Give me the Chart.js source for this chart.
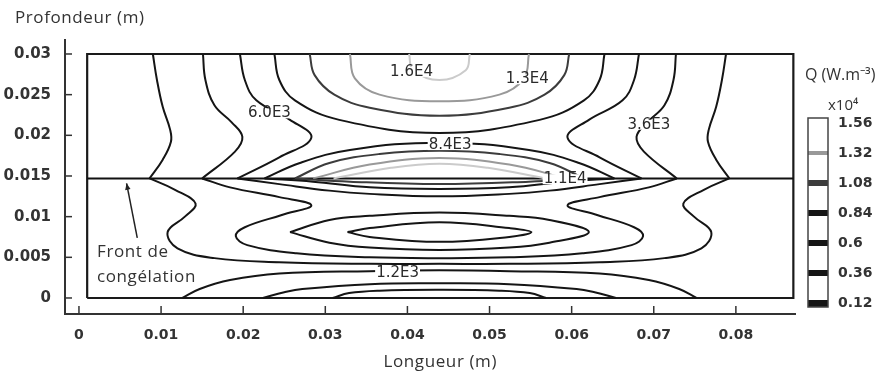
<!DOCTYPE html>
<html>
<head>
<meta charset="utf-8">
<script src="https://cdn.jsdelivr.net/npm/chart.js@4.4.0/dist/chart.umd.min.js"></script>
<style>
  html, body { margin: 0; padding: 0; background: #fff; }
</style>
</head>
<body>
<canvas id="c" width="891" height="374"></canvas>
<script>
// axes
const xTicks = [0, 0.01, 0.02, 0.03, 0.04, 0.05, 0.06, 0.07, 0.08];
const xTickLabels = ["0", "0.01", "0.02", "0.03", "0.04", "0.05", "0.06", "0.07", "0.08"];
const yTicks = [0, 0.005, 0.01, 0.015, 0.02, 0.025, 0.03];
const yTickLabels = ["0", "0.005", "0.01", "0.015", "0.02", "0.025", "0.03"];
const qLevels = [0.12, 0.36, 0.6, 0.84, 1.08, 1.32, 1.56];
const qLabels = ["0.12", "0.36", "0.6", "0.84", "1.08", "1.32", "1.56"];

// domaine + front de congélation
const boxPts = [[0.001, 0], [0.087, 0], [0.087, 0.03], [0.001, 0.03], [0.001, 0]];
const frontPts = [[0.001, 0.0147], [0.087, 0.0147]];

// isolignes (x, y)
const q12TopLeft = [[0.0090,0.0300],[0.0095,0.0268],[0.0102,0.0235],[0.0111,0.0207],[0.0112,0.0192],[0.0102,0.0170],[0.0086,0.0147]];
const q12TopRight = [[0.0788,0.0300],[0.0783,0.0268],[0.0776,0.0235],[0.0767,0.0207],[0.0766,0.0192],[0.0776,0.0170],[0.0792,0.0147]];
const q12Below = [[0.0086,0.0147],[0.0117,0.0133],[0.0142,0.0116],[0.0129,0.0100],[0.0108,0.0081],[0.0120,0.0061],[0.0165,0.0049],[0.0244,0.0044],[0.0354,0.0042],[0.0439,0.0042],[0.0524,0.0042],[0.0634,0.0044],[0.0713,0.0049],[0.0758,0.0061],[0.0770,0.0081],[0.0749,0.0100],[0.0736,0.0116],[0.0761,0.0133],[0.0792,0.0147]];
const q36TopLeft = [[0.0151,0.0300],[0.0154,0.0268],[0.0165,0.0237],[0.0186,0.0216],[0.0199,0.0198],[0.0190,0.0180],[0.0150,0.0147]];
const q36TopRight = [[0.0727,0.0300],[0.0724,0.0268],[0.0713,0.0237],[0.0692,0.0216],[0.0679,0.0198],[0.0688,0.0180],[0.0728,0.0147]];
const q36Below = [[0.0150,0.0147],[0.0184,0.0136],[0.0244,0.0124],[0.0283,0.0114],[0.0247,0.0102],[0.0202,0.0087],[0.0191,0.0076],[0.0205,0.0065],[0.0265,0.0055],[0.0354,0.0050],[0.0439,0.0049],[0.0524,0.0050],[0.0613,0.0055],[0.0673,0.0065],[0.0687,0.0076],[0.0676,0.0087],[0.0631,0.0102],[0.0595,0.0114],[0.0634,0.0124],[0.0694,0.0136],[0.0728,0.0147]];
const q60TopLeft = [[0.0196,0.0300],[0.0202,0.0268],[0.0216,0.0243],[0.0257,0.0219],[0.0283,0.0197],[0.0244,0.0173],[0.0193,0.0147]];
const q60TopRight = [[0.0682,0.0300],[0.0676,0.0268],[0.0662,0.0243],[0.0621,0.0219],[0.0595,0.0197],[0.0634,0.0173],[0.0685,0.0147]];
const q60Below = [[0.0193,0.0147],[0.0244,0.0140],[0.0305,0.0132],[0.0354,0.0128],[0.0439,0.0125],[0.0524,0.0128],[0.0573,0.0132],[0.0634,0.0140],[0.0685,0.0147]];
const q60Lobe = [[0.0257,0.0081],[0.0305,0.0096],[0.0354,0.0101],[0.0439,0.0105],[0.0524,0.0101],[0.0573,0.0096],[0.0621,0.0081],[0.0573,0.0068],[0.0524,0.0062],[0.0439,0.0059],[0.0354,0.0062],[0.0305,0.0068],[0.0257,0.0081]];
const q84Top = [[0.0238,0.0300],[0.0244,0.0268],[0.0263,0.0243],[0.0317,0.0219],[0.0439,0.0203],[0.0561,0.0219],[0.0615,0.0243],[0.0634,0.0268],[0.0640,0.0300]];
const q84LensUp = [[0.0226,0.0147],[0.0269,0.0166],[0.0330,0.0182],[0.0439,0.0191],[0.0548,0.0182],[0.0609,0.0166],[0.0652,0.0147]];
const q84LensDown = [[0.0226,0.0147],[0.0285,0.0143],[0.0354,0.0136],[0.0439,0.0134],[0.0524,0.0136],[0.0593,0.0143],[0.0652,0.0147]];
const q84Lobe = [[0.0327,0.0081],[0.0354,0.0086],[0.0439,0.0093],[0.0524,0.0086],[0.0551,0.0081],[0.0524,0.0075],[0.0439,0.0069],[0.0354,0.0075],[0.0327,0.0081]];
const q108Top = [[0.0281,0.0300],[0.0287,0.0274],[0.0311,0.0250],[0.0354,0.0234],[0.0439,0.0224],[0.0524,0.0234],[0.0567,0.0250],[0.0591,0.0274],[0.0597,0.0300]];
const q108LensUp = [[0.0263,0.0147],[0.0305,0.0166],[0.0366,0.0177],[0.0439,0.0181],[0.0512,0.0177],[0.0573,0.0166],[0.0615,0.0147]];
const q108LensDown = [[0.0263,0.0147],[0.0330,0.0143],[0.0439,0.0140],[0.0548,0.0143],[0.0615,0.0147]];
const q132Top = [[0.0330,0.0300],[0.0336,0.0270],[0.0366,0.0250],[0.0439,0.0242],[0.0512,0.0250],[0.0542,0.0270],[0.0548,0.0300]];
const q132Lens = [[0.0285,0.0147],[0.0354,0.0164],[0.0439,0.0172],[0.0524,0.0164],[0.0593,0.0147]];
const q156Top = [[0.0402,0.0300],[0.0407,0.0280],[0.0439,0.0268],[0.0471,0.0280],[0.0476,0.0300]];
const q156Lens = [[0.0310,0.0147],[0.0380,0.0160],[0.0439,0.0165],[0.0498,0.0160],[0.0568,0.0147]];
const q12Bottom = [[0.0126,0],[0.0147,0.0011],[0.0184,0.0022],[0.0244,0.0030],[0.0354,0.0033],[0.0439,0.0034],[0.0524,0.0033],[0.0634,0.0030],[0.0694,0.0022],[0.0731,0.0011],[0.0752,0]];
const q36Bottom = [[0.0224,0],[0.0250,0.0007],[0.0272,0.0011],[0.0354,0.0017],[0.0439,0.0018],[0.0524,0.0017],[0.0606,0.0011],[0.0628,0.0007],[0.0654,0]];
const q60Bottom = [[0.0309,0],[0.0329,0.0006],[0.0366,0.0009],[0.0439,0.0010],[0.0512,0.0009],[0.0549,0.0006],[0.0569,0]];

// étiquettes des isolignes
const labelText = ["1.6E4", "1.3E4", "6.0E3", "8.4E3", "3.6E3", "1.1E4", "1.2E3"];
const labelX = [0.0405, 0.0546, 0.0232, 0.0452, 0.0694, 0.0592, 0.0388];
const labelY = [0.0278, 0.0269, 0.0227, 0.0188, 0.0213, 0.0146, 0.0031];

// couleur des niveaux (x1E4)
const levelColor = { 0.12: "#151515", 0.36: "#151515", 0.6: "#151515", 0.84: "#151515", 1.08: "#3c3c3c", 1.32: "#999999", 1.56: "#cbcbcb" };

const contours = [
    [q12TopLeft, 0.12], [q12TopRight, 0.12], [q12Below, 0.12], [q12Bottom, 0.12],
    [q36TopLeft, 0.36], [q36TopRight, 0.36], [q36Below, 0.36], [q36Bottom, 0.36],
    [q60TopLeft, 0.6], [q60TopRight, 0.6], [q60Below, 0.6], [q60Lobe, 0.6], [q60Bottom, 0.6],
    [q84Top, 0.84], [q84LensUp, 0.84], [q84LensDown, 0.84], [q84Lobe, 0.84],
    [q108Top, 1.08], [q108LensUp, 1.08], [q108LensDown, 1.08],
    [q132Top, 1.32], [q132Lens, 1.32],
    [q156Top, 1.56], [q156Lens, 1.56],
];

const toXY = (pts) => pts.map(([x, y]) => ({ x, y }));

const datasets = contours.map(([pts, lvl]) => ({
    data: toXY(pts),
    borderColor: levelColor[lvl],
    borderWidth: 2,
    tension: 0.4,
}));
datasets.push({ data: toXY(frontPts), borderColor: "#111", borderWidth: 2, tension: 0 });
datasets.push({ data: toXY(boxPts), borderColor: "#1a1a1a", borderWidth: 2.2, tension: 0 });

const tickFont = { family: "DejaVu Sans", size: 14, weight: "bold" };
const tickFontY = { family: "DejaVu Sans", size: 15, weight: "bold" };
const txtFont = '17px "Open Sans"';

// ticks vers l'intérieur, textes, colorbar
const decor = {
    id: "decor",
    afterDatasetsDraw(chart) {
        const { ctx, chartArea: a, scales } = chart;
        const sx = scales.x, sy = scales.y, sq = scales.q;
        ctx.save();

        ctx.strokeStyle = "#333";
        ctx.lineWidth = 1.5;
        xTicks.forEach(v => {
            const px = sx.getPixelForValue(v);
            ctx.beginPath(); ctx.moveTo(px, a.bottom); ctx.lineTo(px, a.bottom - 8); ctx.stroke();
        });
        yTicks.forEach(v => {
            const py = sy.getPixelForValue(v);
            ctx.beginPath(); ctx.moveTo(a.left, py); ctx.lineTo(a.left + 7, py); ctx.stroke();
        });

        // étiquettes
        ctx.font = '15px "DejaVu Sans"';
        ctx.textAlign = "center";
        ctx.textBaseline = "middle";
        labelText.forEach((t, i) => {
            const px = sx.getPixelForValue(labelX[i]);
            const py = sy.getPixelForValue(labelY[i]);
            const w = ctx.measureText(t).width;
            ctx.fillStyle = "#fff";
            ctx.fillRect(px - w / 2 - 1, py - 5, w + 2, 10);
            ctx.fillStyle = "#2a2a2a";
            ctx.fillText(t, px, py);
        });

        // Front de congélation + flèche
        ctx.font = txtFont;
        ctx.letterSpacing = "0.6px";
        ctx.textAlign = "left";
        ctx.fillStyle = "#333";
        ctx.fillText("Front de", sx.getPixelForValue(0.0022), sy.getPixelForValue(0.0056));
        ctx.fillText("congélation", sx.getPixelForValue(0.0022), sy.getPixelForValue(0.0025));
        const ax0 = sx.getPixelForValue(0.0071), ay0 = sy.getPixelForValue(0.0074);
        const ax1 = sx.getPixelForValue(0.0058), ay1 = sy.getPixelForValue(0.0141);
        ctx.strokeStyle = "#222";
        ctx.lineWidth = 1.5;
        ctx.beginPath(); ctx.moveTo(ax0, ay0); ctx.lineTo(ax1, ay1); ctx.stroke();
        const ang = Math.atan2(ay1 - ay0, ax1 - ax0);
        ctx.beginPath();
        ctx.moveTo(ax1, ay1);
        ctx.lineTo(ax1 - 7 * Math.cos(ang - 0.4), ay1 - 7 * Math.sin(ang - 0.4));
        ctx.lineTo(ax1 - 7 * Math.cos(ang + 0.4), ay1 - 7 * Math.sin(ang + 0.4));
        ctx.closePath();
        ctx.fillStyle = "#222";
        ctx.fill();

        // titres
        ctx.fillStyle = "#333";
        ctx.textBaseline = "middle";
        ctx.fillText("Profondeur (m)", 15, 18);
        ctx.textAlign = "center";
        ctx.fillText("Longueur (m)", sx.getPixelForValue(0.044), 362);

        // colorbar
        ctx.textAlign = "left";
        ctx.letterSpacing = "0px";
        ctx.font = '16px "Open Sans"';
        ctx.fillText("Q (W.m\u207B\u00B3)", 805, 75);
        ctx.font = '15px "Open Sans"';
        ctx.fillText("x10\u2074", 828, 106);
        const cx = 808, cw = 20;
        const top = sq.getPixelForValue(1.56) - 5;
        const bot = sq.getPixelForValue(0.12) + 4;
        qLevels.forEach(v => {
            const py = sq.getPixelForValue(v);
            const h = v === 0.12 ? 7 : (v >= 1.32 ? 4 : 6);
            ctx.fillStyle = v === 1.56 ? "#ffffff" : levelColor[v];
            ctx.fillRect(cx, v === 0.12 ? bot - h : py - h / 2, cw, h);
        });
        ctx.strokeStyle = "#444";
        ctx.lineWidth = 1.5;
        ctx.strokeRect(cx, top, cw, bot - top);
        ctx.restore();
    }
};

new Chart(document.getElementById("c"), {
    type: "scatter",
    data: { datasets: datasets.map(d => Object.assign({ showLine: true, pointRadius: 0, fill: false }, d)) },
    options: {
        responsive: false,
        animation: false,
        devicePixelRatio: 1,
        layout: { padding: { top: 40, left: 0, right: 0, bottom: 0 } },
        plugins: { legend: { display: false }, tooltip: { enabled: false } },
        scales: {
            x: {
                type: "linear",
                min: -0.0017,
                max: 0.0872,
                afterBuildTicks: s => { s.ticks = xTicks.map(v => ({ value: v })); },
                afterFit: s => { s.height = 60; },
                ticks: { callback: (v, i) => xTickLabels[i], font: tickFont, color: "#333", padding: 5, maxRotation: 0 },
                grid: { display: false },
                border: { color: "#333", width: 2 },
            },
            y: {
                type: "linear",
                min: -0.00197,
                max: 0.03172,
                afterBuildTicks: s => { s.ticks = yTicks.map(v => ({ value: v })); },
                afterFit: s => { s.width = 65; s.paddingTop = 0; s.paddingBottom = 0; },
                ticks: { callback: (v, i) => yTickLabels[i], font: tickFontY, color: "#333", padding: 6 },
                grid: { display: false },
                border: { color: "#333", width: 2 },
            },
            q: {
                type: "linear",
                position: "right",
                min: 0.032,
                max: 2.224,
                afterBuildTicks: s => { s.ticks = qLevels.map(v => ({ value: v })); },
                afterFit: s => { s.width = 96; s.paddingTop = 0; s.paddingBottom = 0; },
                ticks: { callback: (v, i) => qLabels[i], font: tickFont, color: "#333", padding: 35 },
                grid: { display: false },
                border: { display: false },
            },
        },
    },
    plugins: [decor],
});
</script>
</body>
</html>
